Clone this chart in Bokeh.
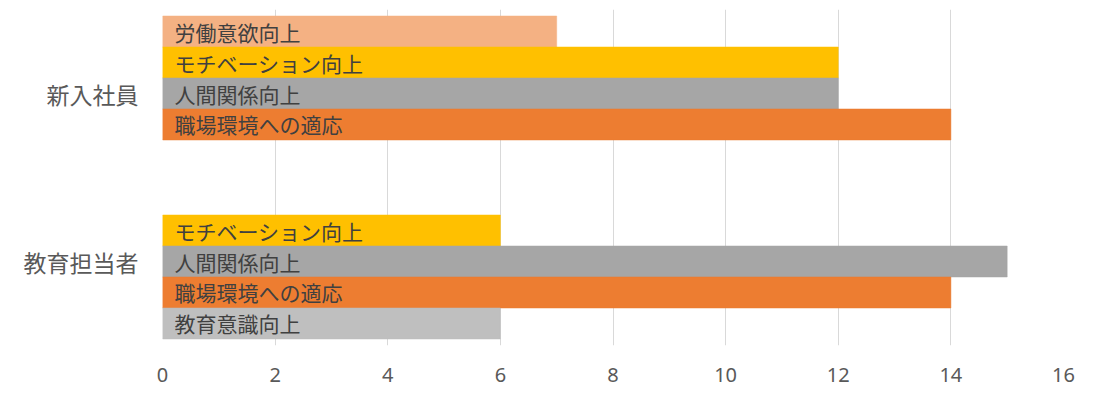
from bokeh.plotting import figure
from bokeh.models import ColumnDataSource, FactorRange, Range1d, FixedTicker
from bokeh.transform import dodge
from bokeh.core.properties import value
from bokeh.embed import file_html
from bokeh.resources import INLINE

categories = ["新入社員", "教育担当者"]
series_names = ["労働意欲向上", "モチベーション向上", "人間関係向上", "職場環境への適応", "教育意識向上"]
series_colors = ["#F4B183", "#FFC000", "#A6A6A6", "#ED7D31", "#BFBFBF"]
values_rodo = [7, None]
values_moti = [12, 6]
values_ningen = [12, 15]
values_shokuba = [14, 14]
values_kyoiku = [None, 6]
x_ticks = [0, 2, 4, 6, 8, 10, 12, 14, 16]

all_values = [values_rodo, values_moti, values_ningen, values_shokuba, values_kyoiku]

JP = "Noto Sans CJK JP"

p = figure(width=1086, height=393, output_backend="svg", toolbar_location=None,
           y_range=FactorRange(factors=categories[::-1], range_padding=0),
           x_range=Range1d(0, 16),
           min_border_left=162, min_border_right=23, min_border_top=9, min_border_bottom=48)

bar_h = 0.1845
offsets = [2 * bar_h, bar_h, 0, -bar_h, -2 * bar_h]

for name, color, vals, off in zip(series_names, series_colors, all_values, offsets):
    cats = [c for c, v in zip(categories, vals) if v is not None]
    vs = [v for v in vals if v is not None]
    src = ColumnDataSource(dict(cat=cats, val=vs, label=[name] * len(vs), zero=[0] * len(vs)))
    y = dodge("cat", off, range=p.y_range)
    p.hbar(y=y, left=0, right="val", height=bar_h, source=src, fill_color=color,
           line_color=color, line_width=0.5)
    p.text(x="zero", y=y, text="label", source=src, x_offset=12, text_baseline="middle",
           text_align="left", text_font=value(JP), text_font_size="21px", text_color="#404040")

p.xaxis.ticker = FixedTicker(ticks=x_ticks)
p.xaxis.axis_line_color = None
p.xaxis.major_tick_line_color = None
p.xaxis.minor_tick_line_color = None
p.xaxis.major_tick_out = 0
p.xaxis.major_label_standoff = 22
p.xaxis.major_label_text_font = "Noto Sans"
p.xaxis.major_label_text_font_size = "20px"
p.xaxis.major_label_text_color = "#595959"

p.yaxis.axis_line_color = None
p.yaxis.major_tick_line_color = None
p.yaxis.major_tick_out = 0
p.yaxis.major_label_standoff = 24
p.yaxis.major_label_text_font = JP
p.yaxis.major_label_text_font_size = "23px"
p.yaxis.major_label_text_color = "#595959"

p.xgrid.ticker = FixedTicker(ticks=x_ticks)
p.xgrid.grid_line_color = "#D9D9D9"
p.xgrid.grid_line_width = 1
p.ygrid.grid_line_color = None
p.outline_line_color = None
p.background_fill_color = "white"
p.border_fill_color = "white"

open("out.html", "w").write(file_html(p, INLINE))
